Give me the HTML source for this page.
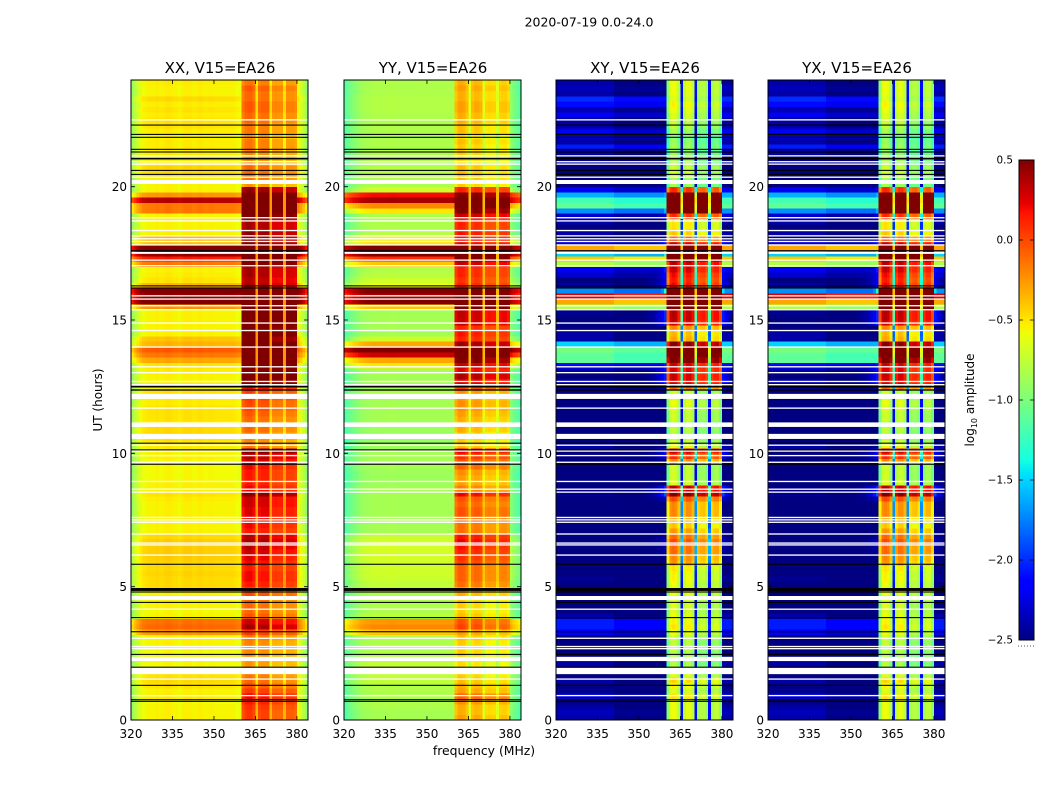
<!DOCTYPE html>
<html lang="en">
<head>
<meta charset="utf-8">
<title>2020-07-19 0.0-24.0</title>
<style>
html,body{margin:0;padding:0;background:#fff;}
svg{display:block;}
text{font-family:"DejaVu Sans","Liberation Sans",sans-serif;fill:#000;}
</style>
</head>
<body>
<svg id="chart" xmlns="http://www.w3.org/2000/svg" width="1050" height="800" viewBox="0 0 1050 800">
<rect x="0" y="0" width="1050" height="800" fill="#fff"/>
<text x="589" y="26.5" font-size="12.5" text-anchor="middle">2020-07-19 0.0-24.0</text>
<text transform="translate(102,400) rotate(-90)" font-size="12" text-anchor="middle">UT (hours)</text>
<text x="484" y="755" font-size="12.4" text-anchor="middle">frequency (MHz)</text>
<text transform="translate(974,400) rotate(-90)" font-size="12" text-anchor="middle">log<tspan font-size="8" dy="3">10</tspan><tspan dy="-3"> amplitude</tspan></text>
<g id="panels"></g>
<g id="colorbar"></g>
</svg>
<script>
// Row levels run from UT 0 upward, 0.2 h per row. Values are log10 amplitude.
const xxLow = [
-.5,-.5,-.5,-.52,-.48,-.5,-.45,-.42,-.45,-.5,
-.52,-.52,-.52,-.52,-.5,-.5,-.2,-.05,-.08,-.5,
-.52,-.5,-.5,-.5,-.42,-.42,-.42,-.4,-.42,-.4,
-.38,-.38,-.38,-.38,-.42,-.5,-.5,-.5,-.5,-.5,
-.5,-.48,-.45,-.5,-.5,-.52,-.52,-.52,-.52,-.5,
-.5,-.48,-.45,-.42,-.42,-.5,-.45,-.45,-.45,-.48,
-.48,-.45,-.5,-.5,-.5,-.48,-.45,-.25,-.1,0,
-.3,-.35,-.5,-.5,-.5,-.5,-.5,-.2,.6,.5,
.6,-.3,-.45,-.48,-.5,-.1,.2,.5,.6,-.35,
-.3,-.5,-.5,-.5,-.5,-.1,-.1,.4,-.2,-.5,
-.5,-.5,-.42,-.4,-.5,-.5,-.48,-.48,-.48,-.5,
-.48,-.45,-.45,-.48,-.45,-.48,-.42,-.5,-.5,-.48];
const xxBand = [
-.05,-.05,-.02,.05,.1,-.05,-.15,-.2,-.25,-.25,
-.35,-.35,-.3,-.3,-.3,-.25,-.05,.3,.2,-.15,
-.2,-.2,-.2,-.1,-.05,.05,.1,.1,.05,.1,
.15,.2,.25,.3,.25,.05,.1,.15,.15,.15,
.2,.2,.4,.1,.05,.05,.05,.1,.2,.25,
.45,-.25,-.3,-.3,-.2,-.25,-.2,-.15,-.1,-.1,
-.05,-.05,.1,.5,.6,.55,.6,.7,.75,.8,
.6,.45,.55,.5,.6,.6,.6,.8,.9,.9,
.9,.3,.25,.3,.3,.5,.8,.9,.9,.4,
.35,.35,.3,.3,.5,.7,.8,.8,.6,.35,
-.35,-.25,-.2,-.2,-.35,-.35,-.3,-.25,-.25,-.35,
-.25,-.25,-.2,-.2,-.15,-.15,-.2,-.2,-.15,-.25];
const yyLow = [
-.85,-.85,-.82,-.82,-.82,-.82,-.8,-.75,-.75,-.8,
-.75,-.78,-.82,-.82,-.82,-.8,-.4,-.2,-.25,-.78,
-.82,-.82,-.82,-.82,-.78,-.75,-.72,-.7,-.7,-.7,
-.68,-.68,-.68,-.68,-.72,-.85,-.85,-.85,-.85,-.85,
-.85,-.85,-.85,-.85,-.88,-.88,-.88,-.85,-.85,-.85,
-.85,-.88,-.9,-.9,-.88,-.85,-.85,-.85,-.85,-.85,
-.85,-.82,-.85,-.85,-.85,-.85,-.5,-.3,.3,.6,
-.3,-.7,-.85,-.85,-.85,-.85,-.85,-.4,.5,.4,
.5,-.6,-.7,-.78,-.8,-.4,.1,.5,.6,-.5,
-.55,-.8,-.82,-.82,-.82,-.5,-.2,.4,.2,-.7,
-.82,-.82,-.8,-.8,-.82,-.82,-.82,-.82,-.82,-.82,
-.82,-.82,-.82,-.82,-.8,-.8,-.8,-.82,-.82,-.82];
const yyBand = [
-.3,-.35,-.35,-.25,-.1,-.3,-.35,-.4,-.45,-.45,
-.5,-.5,-.45,-.45,-.45,-.4,-.3,0,-.05,-.4,
-.45,-.45,-.45,-.35,-.3,-.15,-.1,-.1,-.1,0,
.05,.1,.15,.2,.15,-.15,-.15,-.1,-.05,-.05,
-.1,-.05,.2,-.2,-.3,-.3,-.25,-.1,-.05,.05,
.2,-.4,-.45,-.45,-.35,-.4,-.35,-.3,-.25,-.25,
-.3,-.25,0,.25,.35,.2,.3,.5,.7,.8,
.4,.1,.15,.1,.3,.3,.3,.6,.8,.8,
.8,.1,.05,.1,.1,.3,.6,.8,.8,.2,
.15,.15,.1,.1,.3,.5,.7,.8,.5,.1,
-.45,-.4,-.4,-.4,-.5,-.5,-.45,-.45,-.4,-.5,
-.4,-.4,-.35,-.35,-.3,-.3,-.35,-.35,-.3,-.35];
const xyLow = [
-2.3,-2.25,-2.3,-2.4,-2.2,-2.35,-2.4,-2.3,-2.4,-2.4,
-2.3,-2.3,-2.45,-2.45,-2.45,-2.45,-2.1,-1.95,-1.95,-2.3,
-2.4,-2.45,-2.4,-2.45,-2.45,-2.4,-2.35,-2.45,-2.45,-2.4,
-2.45,-2.45,-2.4,-2.45,-2.45,-2.4,-2.45,-2.45,-2.45,-2.45,
-2.4,-2.4,-2.35,-2.45,-2.45,-2.45,-2.45,-2.45,-2.45,-2.45,
-2.45,-2.3,-2.45,-2.45,-2.4,-2.4,-2.45,-2.45,-2.45,-2.45,
-2.4,-2.45,-2.35,-2.3,-2.4,-2.3,-2,-1,-1,-.9,
-1.4,-2.3,-2.3,-2.45,-2.45,-2.45,-2.35,-.7,-.2,.35,
-1.6,-2.3,-2.4,-2.2,-2.1,-.7,-.3,-1.4,-.2,-2.2,
-2.4,-2.3,-2.4,-2.3,-2.2,-1.6,-1,-1.1,-1.5,-2.1,
-2.45,-2.45,-2.4,-2.4,-2.35,-2.4,-2.3,-1.95,-2.3,-2.2,
-2.1,-2.3,-2.3,-2.1,-2.25,-2,-1.9,-2.3,-2.25,-2.3];
const xyBand = [
-.6,-.6,-.6,-.6,-.5,-.65,-.55,-.45,-.65,-.7,
-.8,-.8,-.8,-.75,-.75,-.7,-.6,-.5,-.55,-.6,
-.65,-.65,-.65,-.6,-.6,-.6,-.55,-.55,-.5,-.25,
-.2,-.1,-.1,0,-.1,-.25,-.4,-.3,-.2,-.2,
-.2,0,.5,.35,-.65,-.7,-.7,-.7,-.2,.1,
.3,-.6,-.7,-.8,-.75,-.8,-.7,-.7,-.65,-.6,
-.65,-.7,-.1,.3,.3,.25,.3,.6,.8,.9,
.5,-.3,-.35,-.2,.3,.35,.35,.9,1.1,1.1,
1.1,.2,.15,.2,.3,.35,.9,1.1,1.1,.3,
-.1,-.4,-.5,-.5,.1,.8,.9,1,.8,.1,
-.85,-.85,-.7,-.7,-.85,-.8,-.9,-.85,-.9,-.95,
-.85,-.75,-.7,-.65,-.6,-.55,-.65,-.6,-.6,-.6];
const yxLow = [
-2.3,-2.25,-2.3,-2.4,-2.2,-2.35,-2.4,-2.3,-2.4,-2.4,
-2.3,-2.3,-2.45,-2.45,-2.45,-2.45,-2.1,-1.95,-1.95,-2.3,
-2.4,-2.45,-2.4,-2.45,-2.45,-2.4,-2.35,-2.45,-2.45,-2.4,
-2.45,-2.45,-2.4,-2.45,-2.45,-2.4,-2.45,-2.45,-2.45,-2.45,
-2.4,-2.4,-2.35,-2.45,-2.45,-2.45,-2.45,-2.45,-2.45,-2.45,
-2.45,-2.3,-2.45,-2.45,-2.4,-2.4,-2.45,-2.45,-2.45,-2.45,
-2.4,-2.45,-2.35,-2.3,-2.4,-2.3,-2,-1,-1,-.9,
-1.4,-2.3,-2.3,-2.45,-2.45,-2.45,-2.35,-.7,-.2,.35,
-1.6,-2.3,-2.4,-2.2,-2.1,-.7,-.3,-1.4,-.2,-2.2,
-2.4,-2.3,-2.4,-2.3,-2.2,-1.6,-1,-1.1,-1.5,-2.1,
-2.45,-2.45,-2.4,-2.4,-2.35,-2.4,-2.3,-1.95,-2.3,-2.2,
-2.1,-2.3,-2.3,-2.1,-2.25,-2,-1.9,-2.3,-2.25,-2.3];
const yxBand = [
-.6,-.6,-.6,-.6,-.5,-.65,-.55,-.45,-.65,-.7,
-.8,-.8,-.8,-.75,-.75,-.7,-.6,-.5,-.55,-.6,
-.65,-.65,-.65,-.6,-.6,-.6,-.55,-.55,-.5,-.25,
-.2,-.1,-.1,0,-.1,-.25,-.4,-.3,-.2,-.2,
-.2,0,.5,.35,-.65,-.7,-.7,-.7,-.2,.1,
.3,-.6,-.7,-.8,-.75,-.8,-.7,-.7,-.65,-.6,
-.65,-.7,-.1,.3,.3,.25,.3,.6,.8,.9,
.5,-.3,-.35,-.2,.3,.35,.35,.9,1.1,1.1,
1.1,.2,.15,.2,.3,.35,.9,1.1,1.1,.3,
-.1,-.4,-.5,-.5,.1,.8,.9,1,.8,.1,
-.85,-.85,-.7,-.7,-.85,-.8,-.9,-.85,-.9,-.95,
-.85,-.75,-.7,-.65,-.6,-.55,-.65,-.6,-.6,-.6];

// Channel offsets, one per MHz from 320 to 383. Band entries are unused in the low shapes.
const xxLowShape = [-.4,-.3,-.2,-.13,-.08,-.06,-.05,-.05,-.05,-.03,-.05,-.05,-.03,-.02,-.03,-.05,-.05,-.07,-.05,-.03,-.03,-.03,-.05,-.05,-.03,-.03,-.05,-.05,-.04,-.04,-.05,-.05,-.05,-.05,-.05,-.05,-.05,-.06,-.08,-.1,0,0,0,0,0,0,0,0,0,0,0,0,0,0,0,0,0,0,0,0,-.08,-.18,-.3,-.42];
const yyLowShape = [-.3,-.25,-.2,-.15,-.12,-.08,-.05,-.03,-.02,-.01,0,0,0,0,0,0,.01,.01,.01,0,0,0,0,0,0,0,0,0,0,0,0,0,0,0,0,0,0,0,0,0,0,0,0,0,0,0,0,0,0,0,0,0,0,0,0,0,0,0,0,0,-.1,-.2,-.25,-.3];
const crossLowShape = [-.1,-.1,-.1,-.1,-.1,-.1,-.1,-.1,-.1,-.1,-.1,-.1,-.1,-.1,-.1,-.1,-.1,-.1,-.1,-.1,-.1,-.2,-.2,-.2,-.2,-.2,-.2,-.2,-.2,-.2,-.2,-.2,-.2,-.2,-.2,-.2,-.2,-.2,-.2,-.2,0,0,0,0,0,0,0,0,0,0,0,0,0,0,0,0,0,0,0,0,-.1,-.1,-.1,-.1];
const xxWing = [0,0,0,0,0,0,0,0,0,0,0,0,0,0,0,0,0,0,0,0,0,0,0,0,0,0,0,0,0,0,0,0,0,0,0,0,0,0,0,0,0,0,0,0,0,0,0,0,0,0,0,0,0,0,0,0,0,0,0,0,0,0,0,0];
const crossWing = [0,0,0,0,0,0,0,0,0,0,0,0,0,0,0,0,0,0,0,0,0,0,0,0,0,0,0,0,0,0,0,0,.05,.08,.12,.18,.28,.42,.62,.9,0,0,0,0,0,0,0,0,0,0,0,0,0,0,0,0,0,0,0,0,.8,.55,.35,.2];
// Offsets for channels inside the band (360 to 379 MHz).
const xxBandShape = [.02,.1,.12,.12,.05,0,.05,.08,.08,.08,0,-.05,-.03,-.05,-.05,0,-.02,-.02,-.02,-.05];
const yyBandShape = [-.06,.04,.04,.02,-.05,0,-.05,0,0,-.03,0,-.13,-.11,-.13,-.13,0,-.1,-.08,-.08,-.13];
const crossBandShape = [-.35,-.02,.02,-.02,-.2,0,-.15,-.02,-.02,-.15,0,-.25,-.2,-.18,-.3,0,-.25,-.15,-.15,-.35];
const bandChannels = [360,379];
const gapChannels = [365,370,375];

// Flagged (blank) and black scans, in UT hours.
const blankStartUT = [22.48,21.13,20.91,20.82,20.33,20.1,18.81,18.69,18.33,18.13,18.02,17.92,17.79,17.48,17.22,17.01,15.88,15.76,15.51,15.36,14.86,14.58,13.96,13.22,13,12.67,12.55,12.04,11.67,10.99,10.54,10.28,10.06,9.89,9.64,8.92,8.63,8.52,7.57,7.48,7.39,6.95,6.61,6.54,6.16,4.5,4.13,3.04,2.73,2.65,2.21,1.72,1.51,.89];
const blankSpanH = [.05,.05,.05,.05,.05,.15,.05,.05,.05,.05,.05,.05,.05,.07,.05,.05,.05,.05,.05,.05,.05,.05,.05,.05,.05,.05,.05,.19,.05,.17,.19,.05,.05,.05,.05,.05,.05,.05,.05,.05,.05,.05,.05,.05,.05,.15,.05,.05,.05,.05,.16,.24,.05,.05];
const blackStartUT = [22.29,21.94,21.83,21.38,21.28,21.02,20.59,20.44,17.58,16.26,16.18,12.47,12.35,10.36,10.11,9.57,5.82,4.84,4.78,4.39,3.82,3.29,2.44,1.96,1.28,.74,.68];
const blackSpanH = [.04,.04,.04,.04,.04,.06,.04,.04,.04,.04,.04,.06,.05,.04,.04,.04,.04,.11,.04,.04,.04,.04,.04,.04,.04,.04,.04];

// Axis tick labels.
const freqTicks = [320,335,350,365,380];
const utTicks = [0,5,10,15,20];
const cbarTicks = [-2.5,-2,-1.5,-1,-.5,0,.5];
const cbarTickLabels = ['\u22122.5','\u22122.0','\u22121.5','\u22121.0','\u22120.5','0.0','0.5'];
const panelTitles = ['XX, V15=EA26','YY, V15=EA26','XY, V15=EA26','YX, V15=EA26'];

const NS = 'http://www.w3.org/2000/svg';
const panelLeft = [131,344,556,768];
const plotW = 177, plotTop = 80, plotBottom = 720;
const fMin = 320, fMax = 384, utMax = 24, vMin = -2.5, vMax = .5, rowHours = .2;

const panelSources = [
  {key:'xx', low:xxLow, band:xxBand, lowShape:xxLowShape, wing:xxWing, bandShape:xxBandShape, gapOffset:-.3, gapCeil:-.25},
  {key:'yy', low:yyLow, band:yyBand, lowShape:yyLowShape, wing:xxWing, bandShape:yyBandShape, gapOffset:-.3, gapCeil:-.35},
  {key:'xy', low:xyLow, band:xyBand, lowShape:crossLowShape, wing:crossWing, bandShape:crossBandShape, gapOffset:-1.5, gapCeil:-.4},
  {key:'yx', low:yxLow, band:yxBand, lowShape:crossLowShape, wing:crossWing, bandShape:crossBandShape, gapOffset:-1.5, gapCeil:-.4}
];

function yOf(ut){ return plotBottom - ut * (plotBottom - plotTop) / utMax; }
function xOf(left, f){ return left + (f - fMin) * plotW / (fMax - fMin); }
function lerpStops(t, stops){
  if (t <= stops[0][0]) return stops[0][1];
  for (let i = 1; i < stops.length; i++) {
    if (t <= stops[i][0]) {
      const a = stops[i-1], b = stops[i];
      return a[1] + (b[1]-a[1]) * (t-a[0]) / (b[0]-a[0]);
    }
  }
  return stops[stops.length-1][1];
}
const jetR = [[0,0],[.35,0],[.66,1],[.89,1],[1,.5]];
const jetG = [[0,0],[.125,0],[.375,1],[.64,1],[.91,0],[1,0]];
const jetB = [[0,.5],[.11,1],[.34,1],[.65,0],[1,0]];
function colorOf(v){
  const t = Math.max(0, Math.min(1, (v - vMin) / (vMax - vMin)));
  const c = s => Math.round(255 * lerpStops(t, s));
  return 'rgb(' + c(jetR) + ',' + c(jetG) + ',' + c(jetB) + ')';
}
function cellValue(src, r, f){
  const i = f - fMin;
  if (f >= bandChannels[0] && f <= bandChannels[1]) {
    if (gapChannels.indexOf(f) >= 0) return Math.min(src.band[r] + src.gapOffset, src.gapCeil);
    return src.band[r] + src.bandShape[f - bandChannels[0]];
  }
  return Math.max(src.low[r] + src.lowShape[i], vMin + src.wing[i] * Math.max(0, src.band[r] + .2));
}
function make(tag, parent, attrs){
  const el = document.createElementNS(NS, tag);
  for (const k in attrs) el.setAttribute(k, attrs[k]);
  parent.appendChild(el);
  return el;
}

const panelsRoot = document.getElementById('panels');
panelSources.forEach(function(src, p){
  const left = panelLeft[p];
  const g = make('g', panelsRoot, {});
  
  
  const cells = make('g', g, {'shape-rendering':'crispEdges'});
  
  
  for (let r = 0; r < src.low.length; r++) {
    const top = yOf((r + 1) * rowHours), bot = yOf(r * rowHours);
    for (let f = fMin; f < fMax; f++) {
      const x0 = xOf(left, f), x1 = xOf(left, f + 1);
      const cell = make('rect', cells, {x:x0.toFixed(2), y:top.toFixed(2), width:(x1-x0+.4).toFixed(2), height:(bot-top+.4).toFixed(2), fill:colorOf(cellValue(src, r, f))});
      
      
    }
  }
  blankStartUT.forEach(function(ut, i){
    const gap = make('rect', g, {x:left, y:yOf(ut + blankSpanH[i]), width:plotW, height:yOf(ut) - yOf(ut + blankSpanH[i]), fill:'#fff'});
    
    
  });
  blackStartUT.forEach(function(ut, i){
    const line = make('rect', g, {x:left, y:yOf(ut + blackSpanH[i]), width:plotW, height:yOf(ut) - yOf(ut + blackSpanH[i]), fill:'#000'});
    
    
  });
  const frame = make('rect', g, {x:left, y:plotTop, width:plotW, height:plotBottom - plotTop, fill:'none', stroke:'#000', 'stroke-width':1});
  
  
  freqTicks.forEach(function(f){
    const x = xOf(left, f);
    const d = 'M' + x + ' ' + plotBottom + 'v-4M' + x + ' ' + plotTop + 'v4';
    const tick = make('path', g, {d:d, stroke:'#000', 'stroke-width':.8, fill:'none'});
    
    
    const lab = make('text', g, {x:x, y:738, 'font-size':12, 'text-anchor':'middle'});
    lab.textContent = String(f);
    
    
  });
  utTicks.forEach(function(ut){
    const y = yOf(ut);
    const d = 'M' + left + ' ' + y + 'h4M' + (left + plotW) + ' ' + y + 'h-4';
    const tick = make('path', g, {d:d, stroke:'#000', 'stroke-width':.8, fill:'none'});
    
    
    const lab = make('text', g, {x:left - 4, y:y + 4.5, 'font-size':12, 'text-anchor':'end'});
    lab.textContent = String(ut);
    
    
  });
  const title = make('text', g, {x:left + plotW / 2 + .5, y:73, 'font-size':15, 'text-anchor':'middle'});
  title.textContent = panelTitles[p];
  
  
});

// Colorbar
const cbarRoot = document.getElementById('colorbar');
const cbX = 1019, cbW = 15, cbTop = 160, cbBottom = 640;
function cbarY(v){ return cbBottom - (v - vMin) * (cbBottom - cbTop) / (vMax - vMin); }
const cbarStrip = make('g', cbarRoot, {'shape-rendering':'crispEdges'});


for (let i = 0; i < 240; i++) {
  const v0 = vMin + i * (vMax - vMin) / 240, v1 = vMin + (i + 1) * (vMax - vMin) / 240;
  const seg = make('rect', cbarStrip, {x:cbX, y:cbarY(v1), width:cbW, height:cbarY(v0) - cbarY(v1) + .3, fill:colorOf((v0 + v1) / 2)});
  
  
}
const cbFrame = make('rect', cbarRoot, {x:cbX, y:cbTop, width:cbW, height:cbBottom - cbTop, fill:'none', stroke:'#000', 'stroke-width':1});


cbarTicks.forEach(function(v, i){
  const y = cbarY(v);
  const tick = make('path', cbarRoot, {d:'M' + cbX + ' ' + y + 'h4M' + (cbX + cbW) + ' ' + y + 'h-4', stroke:'#000', 'stroke-width':.8, fill:'none'});
  
  
  const lab = make('text', cbarRoot, {x:1013, y:y + 3.5, 'font-size':10.4, 'text-anchor':'end'});
  lab.textContent = cbarTickLabels[i];
  
  
});
const cbDots = make('path', cbarRoot, {d:'M1018 646H1034', stroke:'#555', 'stroke-width':1, 'stroke-dasharray':'1 2', fill:'none'});


</script>
</body>
</html>
